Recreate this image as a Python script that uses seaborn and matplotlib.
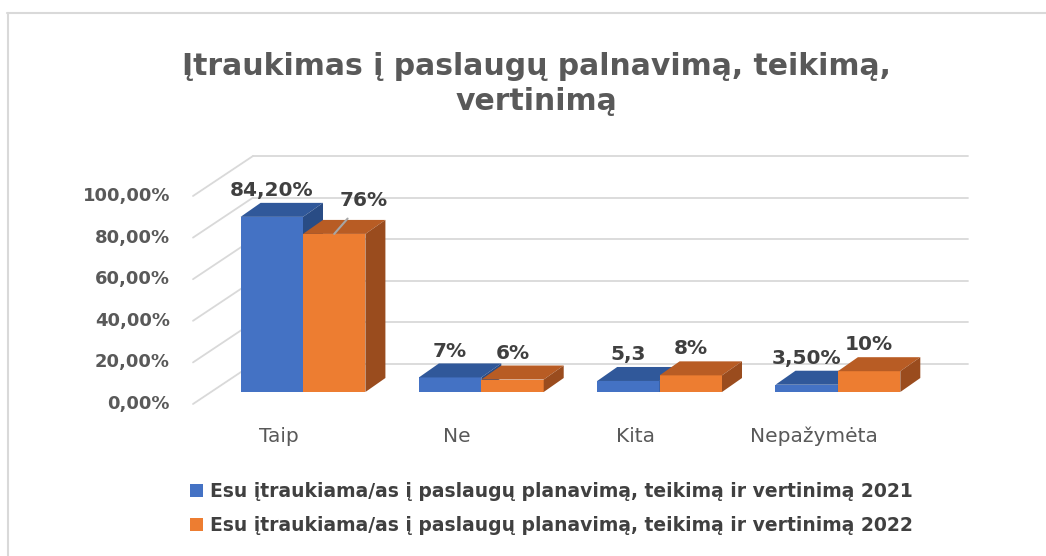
import pandas as pd
import matplotlib.pyplot as plt
import seaborn as sns
from matplotlib.patches import Polygon, Patch
from matplotlib.lines import Line2D
from matplotlib.transforms import ScaledTranslation, blended_transform_factory

# Data
categories = ['Taip', 'Ne', 'Kita', 'Nepažymėta']
years = ['2021', '2022']
values_2021 = [84.2, 7, 5.3, 3.5]
values_2022 = [76, 6, 8, 10]
labels_2021 = ['84,20%', '7%', '5,3', '3,50%']
labels_2022 = ['76%', '6%', '8%', '10%']
y_ticks = [0, 20, 40, 60, 80, 100]
y_tick_labels = ['0,00%', '20,00%', '40,00%', '60,00%', '80,00%', '100,00%']
legend_labels = ['Esu įtraukiama/as į paslaugų planavimą, teikimą ir vertinimą 2021',
                 'Esu įtraukiama/as į paslaugų planavimą, teikimą ir vertinimą 2022']
title = 'Įtraukimas į paslaugų palnavimą, teikimą,\nvertinimą'

df = pd.DataFrame({
    'kategorija': categories * 2,
    'metai': [years[0]] * 4 + [years[1]] * 4,
    'reiksme': values_2021 + values_2022,
})

# Style
sns.set_style("white")
plt.rcParams['font.family'] = ['DejaVu Sans']

front_colors = ['#4472C4', '#ED7D31']
top_colors = ['#30589A', '#B85C24']
side_colors = ['#294C85', '#9A4C1E']
grid_color = '#D9D9D9'
text_gray = '#595959'
dark_gray = '#404040'

W, H, DPI = 1046, 556, 100
fig = plt.figure(figsize=(W / DPI, H / DPI), dpi=DPI)

# axes: 0% at y=392 px, 100% at y=184 px, left at x=193 px, right at x=968 px
ax = fig.add_axes([193 / W, (H - 392) / H, 775 / W, 208 / H])
px_x = 1 / 178.3          # category units per pixel
px_y = 100 / 208          # percent units per pixel

sns.barplot(data=df, x='kategorija', y='reiksme', hue='metai',
            palette=front_colors, saturation=1, width=0.7,
            legend=False, ax=ax)
ax.set_xlim(-110 * px_x, -110 * px_x + 775 * px_x)
ax.set_ylim(0, 100)
ax.axis('off')

# 3D depth of bars
dx, dy = 20 * px_x, 14 * px_y
for i, cont in enumerate(ax.containers):
    z = 2 + i
    for rect in cont:
        rect.set_edgecolor('none')
        rect.set_zorder(z)
        x0, w, h = rect.get_x(), rect.get_width(), rect.get_height()
        top = Polygon([(x0, h), (x0 + w, h), (x0 + w + dx, h + dy), (x0 + dx, h + dy)],
                      closed=True, facecolor=top_colors[i], edgecolor='none', zorder=z)
        side = Polygon([(x0 + w, 0), (x0 + w + dx, dy), (x0 + w + dx, h + dy), (x0 + w, h)],
                       closed=True, facecolor=side_colors[i], edgecolor='none', zorder=z)
        ax.add_patch(top)
        ax.add_patch(side)

# back wall gridlines and left diagonals
blend = blended_transform_factory(ax.transAxes, ax.transData)
back_x = 60 / 775
back_up = 28 * px_y
front_down = 12 * px_y
for v in y_ticks:
    ax.plot([back_x, 1.0], [v + back_up, v + back_up], transform=blend,
            color=grid_color, lw=1.3, zorder=0.5, clip_on=False)
    ax.plot([0, back_x], [v - front_down, v + back_up], transform=blend,
            color=grid_color, lw=1.3, zorder=0.5, clip_on=False)

# y tick labels
off_y = blend + ScaledTranslation(-23 / DPI, -12 / DPI, fig.dpi_scale_trans)
for v, lab in zip(y_ticks, y_tick_labels):
    ax.text(0, v, lab, transform=off_y, ha='right', va='center',
            fontsize=13, fontweight='bold', color=text_gray)

# category labels
off_x = ax.transData + ScaledTranslation(-24 / DPI, -44 / DPI, fig.dpi_scale_trans)
for i, cat in enumerate(categories):
    ax.text(i, 0, cat, transform=off_x, ha='center', va='center',
            fontsize=14.5, color=text_gray)

# data labels
all_labels = [labels_2021, labels_2022]
for i, cont in enumerate(ax.containers):
    for rect, lab in zip(cont, all_labels[i]):
        xc = rect.get_x() + rect.get_width() / 2
        h = rect.get_height()
        if lab == '76%':
            ax.annotate(lab, xy=(xc, h), xytext=(21, 24), textcoords='offset points',
                        ha='center', va='center', fontsize=14.5, fontweight='bold',
                        color=dark_gray, zorder=6,
                        arrowprops=dict(arrowstyle='-', color='#A6A6A6', lw=1.5,
                                        shrinkA=5, shrinkB=0))
        else:
            ax.annotate(lab, xy=(xc, h), xytext=(0, 19), textcoords='offset points',
                        ha='center', va='center', fontsize=14.5, fontweight='bold',
                        color=dark_gray, zorder=6)

# title
fig.text(536 / W, 1 - 84 / H, title, ha='center', va='center', fontsize=21.5,
         fontweight='bold', color=text_gray, linespacing=1.25)

# legend
handles = [Patch(facecolor=c, edgecolor='none') for c in front_colors]
leg = fig.legend(handles, legend_labels, loc='upper left',
                 bbox_to_anchor=(173 / W, 1 - 465 / H), frameon=False,
                 handlelength=0.7, handleheight=0.7, handletextpad=0.35,
                 labelspacing=0.8, prop={'size': 13.5, 'weight': 'bold'})
for t in leg.get_texts():
    t.set_color(dark_gray)

# outer border (top and left)
fig.add_artist(Line2D([7 / W, 1], [1 - 13 / H, 1 - 13 / H], color='#D9D9D9', lw=1.5))
fig.add_artist(Line2D([8 / W, 8 / W], [0, 1 - 13 / H], color='#D9D9D9', lw=1.5))

fig.savefig('out.png', dpi=DPI)
